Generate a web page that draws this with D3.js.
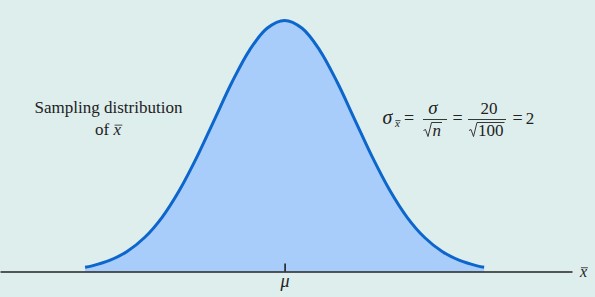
<!DOCTYPE html>
<html>
<head>
<meta charset="utf-8">
<script src="https://cdn.jsdelivr.net/npm/d3@7"></script>
<style>
  body { margin: 0; background: #deeeed; }
  svg { display: block; }
</style>
</head>
<body>
<svg></svg>
<script>
// Sampling distribution of x-bar, offsets from mu (sigma_xbar = 2)
var offsets = [-5.7, -5.5, -5, -4.5, -4, -3.5, -3, -2.5, -2, -1.5, -1, -0.5, 0,
               0.5, 1, 1.5, 2, 2.5, 3, 3.5, 4, 4.5, 5, 5.5, 5.7];
var density = [0.0034, 0.0045, 0.0088, 0.0159, 0.0270, 0.0431, 0.0648, 0.0913, 0.1210, 0.1506, 0.1760, 0.1933, 0.1995,
               0.1933, 0.1760, 0.1506, 0.1210, 0.0913, 0.0648, 0.0431, 0.0270, 0.0159, 0.0088, 0.0045, 0.0034];
var tickValues = [0];
var tickLabels = ["μ"];

var width = 595, height = 297;
var baseY = 271.5;
var serif = "'Liberation Serif', 'DejaVu Serif', serif";
var ink = "#222";

var svg = d3.select("svg")
    .attr("width", width)
    .attr("height", height)
    .style("font-family", serif);

svg.append("rect")
    .attr("width", width)
    .attr("height", height)
    .attr("fill", "#deeeed");

// Scales
var x = d3.scaleLinear()
    .domain([-8.13, 8.21])
    .range([0, 572]);

var y = d3.scaleLinear()
    .domain([0, 0.1995])
    .range([baseY, 20.5]);

var points = offsets.map((d, i) => ({o: d, v: density[i]}));

// Filled area under the curve
svg.append("path")
    .datum(points)
    .attr("fill", "#a9cdfb")
    .attr("d", d3.area()
        .x(d => x(d.o))
        .y0(baseY)
        .y1(d => y(d.v))
        .curve(d3.curveCatmullRom));

// Axis
var axis = svg.append("g")
    .attr("transform", `translate(0,${baseY})`)
    .call(d3.axisBottom(x)
        .tickValues(tickValues)
        .tickFormat((d, i) => tickLabels[i])
        .tickSizeInner(-8)
        .tickSizeOuter(0)
        .tickPadding(3));

axis.attr("font-family", null);
axis.select(".domain")
    .attr("stroke", ink)
    .attr("stroke-width", 1.6);
axis.selectAll(".tick line")
    .attr("stroke", ink)
    .attr("stroke-width", 1.6);
axis.selectAll(".tick text")
    .style("font-family", serif)
    .style("font-style", "italic")
    .style("font-size", "18px")
    .attr("fill", ink);

// Curve outline
svg.append("path")
    .datum(points)
    .attr("fill", "none")
    .attr("stroke", "#0c66cc")
    .attr("stroke-width", 3)
    .attr("d", d3.line()
        .x(d => x(d.o))
        .y(d => y(d.v))
        .curve(d3.curveCatmullRom));

// italic x with a bar over it
function xbar(g, px, baseline, size) {
    var t = g.append("text")
        .attr("x", px)
        .attr("y", baseline)
        .attr("fill", ink)
        .style("font-family", serif)
        .style("font-style", "italic")
        .style("font-size", size + "px")
        .text("x");
    var b = t.node().getBBox();
    g.append("line")
        .attr("x1", b.x + size * 0.12)
        .attr("x2", b.x + b.width + size * 0.05)
        .attr("y1", baseline - size * 0.58)
        .attr("y2", baseline - size * 0.58)
        .attr("stroke", ink)
        .attr("stroke-width", 0.8);
    return t;
}

// x-bar label at the end of the axis
xbar(svg, 580, 277, 16);

// Left label
svg.append("text")
    .attr("x", 108.5)
    .attr("y", 113)
    .attr("text-anchor", "middle")
    .attr("fill", ink)
    .style("font-family", serif)
    .style("font-size", "17px")
    .text("Sampling distribution");

var of = svg.append("text")
    .attr("x", 95)
    .attr("y", 135)
    .attr("fill", ink)
    .style("font-family", serif)
    .style("font-size", "17px")
    .text("of");
xbar(svg, of.node().getBBox().x + of.node().getBBox().width + 4, 135, 17);

// Formula
var f = svg.append("g");
var fs = 17;

function txt(px, baseline, s, italic, size) {
    return f.append("text")
        .attr("x", px)
        .attr("y", baseline)
        .attr("text-anchor", "middle")
        .attr("fill", ink)
        .style("font-family", serif)
        .style("font-style", italic ? "italic" : "normal")
        .style("font-size", (size || fs) + "px")
        .text(s);
}

function radical(px, baseline, s, italic) {
    var t = f.append("text")
        .attr("x", px + 9)
        .attr("y", baseline)
        .attr("fill", ink)
        .style("font-family", serif)
        .style("font-style", italic ? "italic" : "normal")
        .style("font-size", "17px")
        .text(s);
    var b = t.node().getBBox();
    var top = baseline - 13;
    f.append("path")
        .attr("fill", "none")
        .attr("stroke", ink)
        .attr("stroke-width", 0.9)
        .attr("d", `M${px},${baseline - 5} L${px + 2},${baseline - 6} L${px + 4.5},${baseline + 1} L${px + 8},${top} L${b.x + b.width + 1},${top}`);
}

function bar(x1, x2, yy) {
    f.append("line")
        .attr("x1", x1).attr("x2", x2)
        .attr("y1", yy).attr("y2", yy)
        .attr("stroke", ink)
        .attr("stroke-width", 0.9);
}

txt(387.5, 124, "σ", true, 20);
xbar(f, 395, 127, 11);
txt(409, 124, "=", false, 18);
txt(433, 113.5, "σ", true, 19);
bar(423, 447, 119.5);
radical(423.5, 135.5, "n", true);
txt(457.5, 124, "=", false, 18);
txt(489, 113.5, "20", false, 17);
bar(468, 506, 119.5);
radical(469, 135.5, "100", false);
txt(517.5, 124, "=", false, 18);
txt(530, 124, "2", false, 17);
</script>
</body>
</html>
